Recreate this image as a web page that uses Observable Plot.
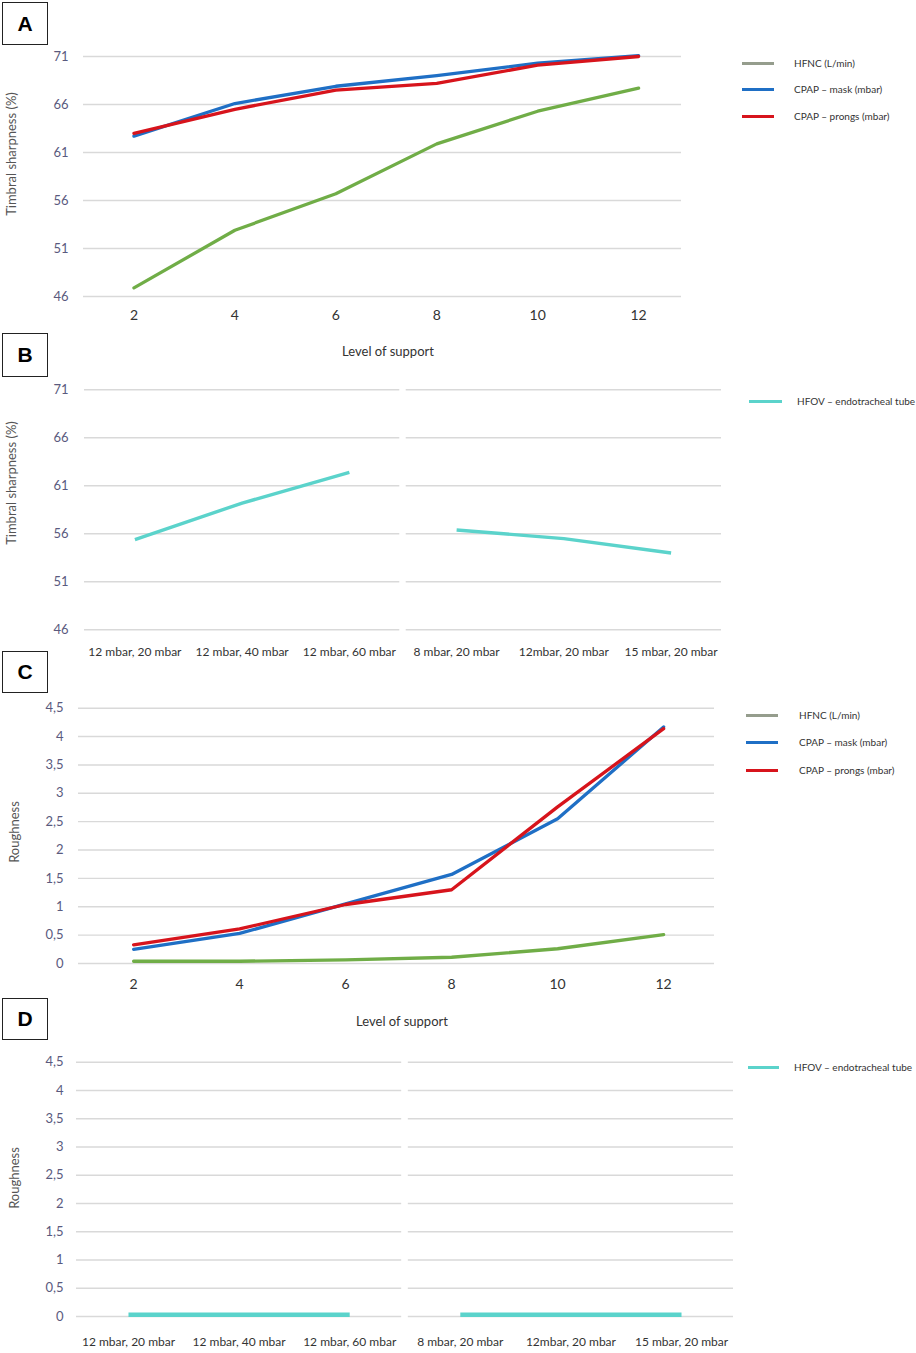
<!DOCTYPE html>
<html><head><meta charset="utf-8">
<script src="https://cdn.jsdelivr.net/npm/d3@7"></script>
<script src="https://cdn.jsdelivr.net/npm/@observablehq/plot@0.6"></script>
<style>
body{margin:0;background:#fff;}
#fig{position:relative;width:916px;height:1353px;font-family:Lato,"Open Sans",sans-serif;overflow:hidden;background:#fff;}
.panel{position:absolute;left:0;}
.box{position:absolute;border:1.3px solid #222;box-sizing:border-box;display:flex;align-items:center;justify-content:center;font:bold 21px "Liberation Sans",Arial,sans-serif;color:#000;background:#fff;}
.ytitle{position:absolute;transform:translate(-50%,-50%) rotate(-90deg);white-space:nowrap;font-size:13px;color:#555;}
.xtitle{position:absolute;transform:translate(-50%,-50%);white-space:nowrap;font-size:13px;color:#333;}
.leg{position:absolute;height:3px;}
.legtxt{position:absolute;transform:translateY(-50%);font-size:10px;color:#333;white-space:nowrap;}
</style></head>
<body>
<div id="fig"></div>
<script>
// ---------- data ----------
const levels = [2, 4, 6, 8, 10, 12];
const seriesNames = ["HFNC (L/min)", "CPAP – mask (mbar)", "CPAP – prongs (mbar)"];
const sharpHFNC   = [46.9, 52.9, 56.7, 61.9, 65.3, 67.7];
const sharpMask   = [62.7, 66.1, 67.9, 69.0, 70.3, 71.1];
const sharpProngs = [63.0, 65.5, 67.5, 68.2, 70.1, 71.0];
const roughHFNC   = [0.04, 0.04, 0.065, 0.11, 0.26, 0.51];
const roughMask   = [0.25, 0.53, 1.05, 1.57, 2.55, 4.17];
const roughProngs = [0.33, 0.61, 1.04, 1.30, 2.76, 4.14];
const hfovName = "HFOV – endotracheal tube";
const hfovSettings = ["12 mbar, 20 mbar", "12 mbar, 40 mbar", "12 mbar, 60 mbar", "8 mbar, 20 mbar", "12mbar, 20 mbar", "15 mbar, 20 mbar"];
const hfovGroup = [0, 0, 0, 1, 1, 1];
const hfovSharp = [55.4, 59.2, 62.4, 56.4, 55.5, 54.0];
const hfovRough = [0.03, 0.03, 0.03, 0.03, 0.03, 0.03];
const sharpTicks = [46, 51, 56, 61, 66, 71];
const roughTicks = [0, 0.5, 1, 1.5, 2, 2.5, 3, 3.5, 4, 4.5];

// ---------- styles ----------
const lineColors = ["#70ad47", "#1f6fc5", "#d7141c"];
const legendColors = ["#959d8d", "#1f6fc5", "#d7141c"];
const hfovColor = "#5bd3cb";
const gridColor = "#d9d9d9";
const tickColor = "#5a5a7e";

const fig = document.getElementById("fig");
const commaFmt = d => String(d).replace(".", ",");

function place(el, top) {
  el.classList.add("panel");
  el.style.top = top + "px";
  fig.appendChild(el);
}

function levelPanel(o) {
  const data = [o.s0, o.s1, o.s2];
  const marks = [
    Plot.ruleY(o.yticks, {stroke: gridColor, strokeWidth: 1.4}),
    Plot.axisY({ticks: o.yticks, tickSize: 0, tickPadding: o.yPad, tickFormat: o.fmt, color: tickColor, fontSize: 13, label: null}),
    Plot.axisX({ticks: levels, tickSize: 0, tickPadding: o.xPad, color: "#333", fontSize: 14, label: null})
  ];
  data.forEach((s, k) => {
    marks.push(Plot.line(levels.map((l, i) => ({level: l, value: s[i]})),
      {x: "level", y: "value", stroke: lineColors[k], strokeWidth: 3.3, strokeLinejoin: "round"}));
  });
  const chart = Plot.plot({
    width: 916, height: o.height,
    marginTop: o.mt, marginBottom: o.mb, marginLeft: o.ml, marginRight: o.mr,
    x: {domain: o.xdom}, y: {domain: o.ydom},
    style: {fontFamily: "Lato, 'Open Sans', sans-serif", background: "transparent", overflow: "visible"},
    marks
  });
  place(chart, o.top);
}

function hfovPanel(o) {
  const rows = hfovSettings.map((s, i) => ({idx: i, value: o.values[i], group: hfovGroup[i]}));
  const groups = Array.from(new Set(hfovGroup));
  const grid = [];
  for (const t of o.yticks) for (const g of groups) {
    const idxs = hfovGroup.map((v, i) => v === g ? i : null).filter(v => v !== null);
    grid.push({y: t, x1: d3.min(idxs) - 0.47, x2: d3.max(idxs) + 0.47});
  }
  const chart = Plot.plot({
    width: 916, height: o.height,
    marginTop: o.mt, marginBottom: o.mb, marginLeft: o.ml, marginRight: o.mr,
    x: {domain: [-0.47, hfovSettings.length - 1 + 0.47]}, y: {domain: o.ydom},
    style: {fontFamily: "Lato, 'Open Sans', sans-serif", background: "transparent", overflow: "visible"},
    marks: [
      Plot.ruleY(grid, {y: "y", x1: "x1", x2: "x2", stroke: gridColor, strokeWidth: 1.4}),
      Plot.axisY({ticks: o.yticks, tickSize: 0, tickPadding: o.yPad, tickFormat: o.fmt, color: tickColor, fontSize: 13, label: null}),
      Plot.axisX({ticks: d3.range(hfovSettings.length), tickSize: 0, tickPadding: o.xPad, tickFormat: i => hfovSettings[i], color: "#333", fontSize: 12, label: null}),
      Plot.line(rows, {x: "idx", y: "value", z: "group", stroke: hfovColor, strokeWidth: o.sw, strokeLinecap: "butt"})
    ]
  });
  place(chart, o.top);
}

// Panel A
levelPanel({top: 0, height: 330, mt: 56, mb: 34, ml: 83, mr: 235, xdom: [1, 12.85], ydom: [46, 71],
  yticks: sharpTicks, fmt: d => String(d), s0: sharpHFNC, s1: sharpMask, s2: sharpProngs, yPad: 15, xPad: 14});
// Panel B
hfovPanel({top: 330, height: 330, mt: 59.3, mb: 30.7, ml: 84, mr: 195, ydom: [46, 71], yticks: sharpTicks,
  fmt: d => String(d), values: hfovSharp, yPad: 16, xPad: 18, sw: 3.4});
// Panel C
levelPanel({top: 655, height: 345, mt: 52.7, mb: 37, ml: 78, mr: 202, xdom: [0.96, 12.96], ydom: [0, 4.5],
  yticks: roughTicks, fmt: commaFmt, s0: roughHFNC, s1: roughMask, s2: roughProngs, yPad: 15, xPad: 16});
// Panel D
hfovPanel({top: 1000, height: 353, mt: 61.7, mb: 37, ml: 76, mr: 183, ydom: [0, 4.5], yticks: roughTicks,
  fmt: commaFmt, values: hfovRough, yPad: 13, xPad: 21, sw: 4.5});

// ---------- html annotations ----------
function div(cls, css, text) {
  const d = document.createElement("div");
  d.className = cls;
  Object.assign(d.style, css);
  if (text != null) d.textContent = text;
  fig.appendChild(d);
  return d;
}
const boxes = [["A", 2, 2, 43], ["B", 2, 333, 44], ["C", 2, 651, 42], ["D", 2, 998, 42]];
boxes.forEach(([t, x, y, h]) => div("box", {left: x + "px", top: y + "px", width: "46px", height: h + "px"}, t));

div("ytitle", {left: "11px", top: "154px"}, "Timbral sharpness (%)");
div("ytitle", {left: "11px", top: "483px"}, "Timbral sharpness (%)");
div("ytitle", {left: "14px", top: "832px"}, "Roughness");
div("ytitle", {left: "14px", top: "1178px"}, "Roughness");
div("xtitle", {left: "388px", top: "351px"}, "Level of support");
div("xtitle", {left: "402px", top: "1021px"}, "Level of support");

function legend(x1, x2, tx, ys, names, colors) {
  names.forEach((n, i) => {
    div("leg", {left: x1 + "px", width: (x2 - x1) + "px", top: (ys[i] - 1.5) + "px", background: colors[i]});
    div("legtxt", {left: tx + "px", top: ys[i] + "px"}, n);
  });
}
legend(742, 774, 794, [63, 89, 116], seriesNames, legendColors);
legend(746, 778, 799, [715, 742, 770], seriesNames, legendColors);
legend(749, 782, 797, [401], [hfovName], [hfovColor]);
legend(748, 779, 794, [1067], [hfovName], [hfovColor]);
</script>
</body></html>
